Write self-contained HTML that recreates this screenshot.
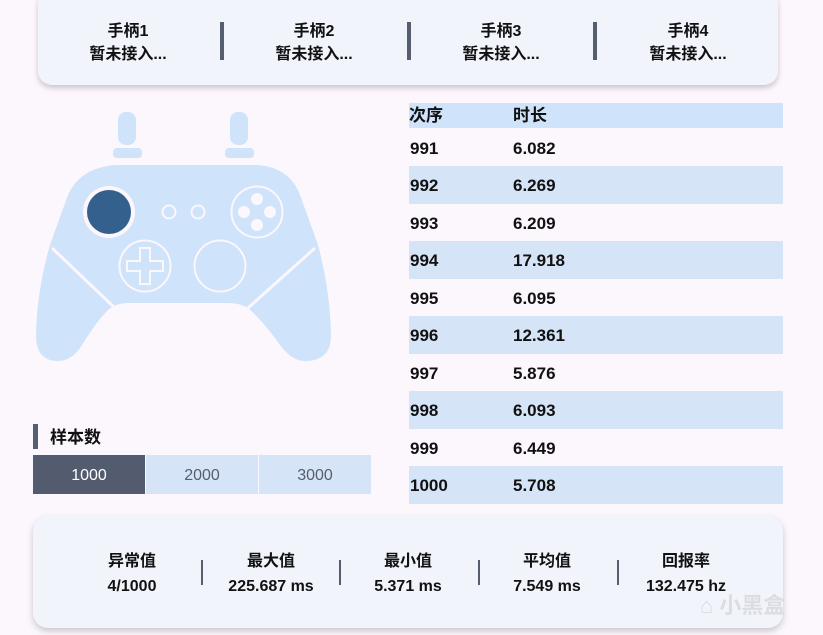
<!DOCTYPE html>
<html><head><meta charset="utf-8"><style>
body{margin:0;width:823px;height:635px;background:#fcf6fd;position:relative;overflow:hidden;font-family:"Liberation Sans","Noto Sans CJK SC",sans-serif;color:#111}
.abs{position:absolute}
.top{left:38px;top:-10px;width:740px;height:95px;background:#f1f4fb;border-radius:14px;box-shadow:0 3px 6px rgba(0,0,0,.2)}
.it{position:absolute;width:140px;text-align:center;font-weight:bold;font-size:16px;line-height:23px}
.sep{position:absolute;width:4px;background:#555e6e}
.row{position:absolute;left:409px;width:374px;height:37.5px;font-weight:bold;font-size:17px;line-height:39px}
.row span{position:absolute}
.c1{left:1px}.c2{left:104px}
.bot{left:33px;top:516px;width:750px;height:112px;background:#f1f4fb;border-radius:15px;box-shadow:0 3px 7px rgba(0,0,0,.2)}
.bi{position:absolute;width:130px;text-align:center;font-weight:bold;font-size:16px;line-height:25px;top:32px}
.bs{position:absolute;width:1.5px;background:#555e6e;top:44px;height:25px}
.btn{position:absolute;top:455px;height:39px;width:112px;text-align:center;line-height:42px;font-size:16px;color:#555e6e;background:#d6e4f7}
</style></head><body>
<div class="abs top">
<div class="it" style="left:20px;top:30px">手柄1<br>暂未接入...</div>
<div class="it" style="left:206px;top:30px">手柄2<br>暂未接入...</div>
<div class="it" style="left:393px;top:30px">手柄3<br>暂未接入...</div>
<div class="it" style="left:580px;top:30px">手柄4<br>暂未接入...</div>
<div class="sep" style="left:182px;top:32px;height:38px"></div>
<div class="sep" style="left:369px;top:32px;height:38px"></div>
<div class="sep" style="left:555px;top:32px;height:38px"></div>
</div>
<svg class="abs" style="left:0;top:0" width="400" height="400">
<g fill="#cfe3fb">
<rect x="118" y="112" width="18" height="33" rx="8"/><rect x="113" y="148" width="29" height="10" rx="4"/>
<rect x="230" y="112" width="18" height="33" rx="8"/><rect x="225" y="148" width="29" height="10" rx="4"/>
<path d="M115,165 L258,165 Q290,168 300,195 L318,245 Q330,290 331,335 Q331,361 305,361 Q292,361 280,345 Q262,320 248,308 Q240,303 228,303 L128,303 Q116,303 108,310 Q96,322 82,345 Q72,361 58,361 Q36,361 36,335 Q37,290 50,245 L68,195 Q80,168 115,165 Z"/>
</g>
<g stroke="#fcf6fd" stroke-width="3" fill="none">
<line x1="52" y1="248" x2="117" y2="310"/><line x1="315" y1="248" x2="248" y2="308"/>
<circle cx="169" cy="212" r="6.5" stroke-width="2"/><circle cx="198" cy="212" r="6.5" stroke-width="2"/>
<circle cx="257" cy="212" r="25.5" stroke-width="2"/>
<circle cx="145" cy="266" r="25.5" stroke-width="2"/>
<circle cx="220" cy="266" r="25.5" stroke-width="2"/>
<path d="M140,248 h10 v13 h13 v10 h-13 v13 h-10 v-13 h-13 v-10 h13 z" stroke-width="2"/>
</g>
<circle cx="109" cy="212" r="26" fill="#fcf6fd"/><circle cx="109" cy="212" r="22" fill="#34608e"/>
<g fill="#fcf6fd"><circle cx="257" cy="199" r="6"/><circle cx="257" cy="225" r="6"/><circle cx="244" cy="212" r="6"/><circle cx="270" cy="212" r="6"/></g>
</svg>
<div class="abs" style="left:409px;top:103px;width:374px;height:25px;background:#cfe3fb;font-weight:bold;font-size:17px;line-height:26px"><span style="position:absolute;left:0">次序</span><span style="position:absolute;left:104px">时长</span></div>
<div class="row" style="top:128.5px"><span class="c1">991</span><span class="c2">6.082</span></div>
<div class="row" style="top:166px;background:#d6e4f7"><span class="c1">992</span><span class="c2">6.269</span></div>
<div class="row" style="top:203.5px"><span class="c1">993</span><span class="c2">6.209</span></div>
<div class="row" style="top:241px;background:#d6e4f7"><span class="c1">994</span><span class="c2">17.918</span></div>
<div class="row" style="top:278.5px"><span class="c1">995</span><span class="c2">6.095</span></div>
<div class="row" style="top:316px;background:#d6e4f7"><span class="c1">996</span><span class="c2">12.361</span></div>
<div class="row" style="top:353.5px"><span class="c1">997</span><span class="c2">5.876</span></div>
<div class="row" style="top:391px;background:#d6e4f7"><span class="c1">998</span><span class="c2">6.093</span></div>
<div class="row" style="top:428.5px"><span class="c1">999</span><span class="c2">6.449</span></div>
<div class="row" style="top:466px;background:#d6e4f7"><span class="c1">1000</span><span class="c2">5.708</span></div>
<div class="abs" style="left:33px;top:424px;width:5px;height:25px;background:#555e6e"></div>
<div class="abs" style="left:50px;top:426px;font-weight:bold;font-size:17px;line-height:24px">样本数</div>
<div class="btn" style="left:33px;background:#525c6e;color:#fff">1000</div>
<div class="btn" style="left:146px">2000</div>
<div class="btn" style="left:259px">3000</div>
<div class="abs bot">
<div class="bi" style="left:34px;top:33px">异常值<br>4/1000</div>
<div class="bi" style="left:173px;top:33px">最大值<br>225.687 ms</div>
<div class="bi" style="left:310px;top:33px">最小值<br>5.371 ms</div>
<div class="bi" style="left:449px;top:33px">平均值<br>7.549 ms</div>
<div class="bi" style="left:588px;top:33px">回报率<br>132.475 hz</div>
<div class="bs" style="left:168px"></div><div class="bs" style="left:306px"></div><div class="bs" style="left:445px"></div><div class="bs" style="left:584px"></div>
</div>
<div class="abs" style="left:700px;top:588px;font-size:22px;color:#dcdce2;font-weight:bold">⌂ 小黑盒</div>
</body></html>
